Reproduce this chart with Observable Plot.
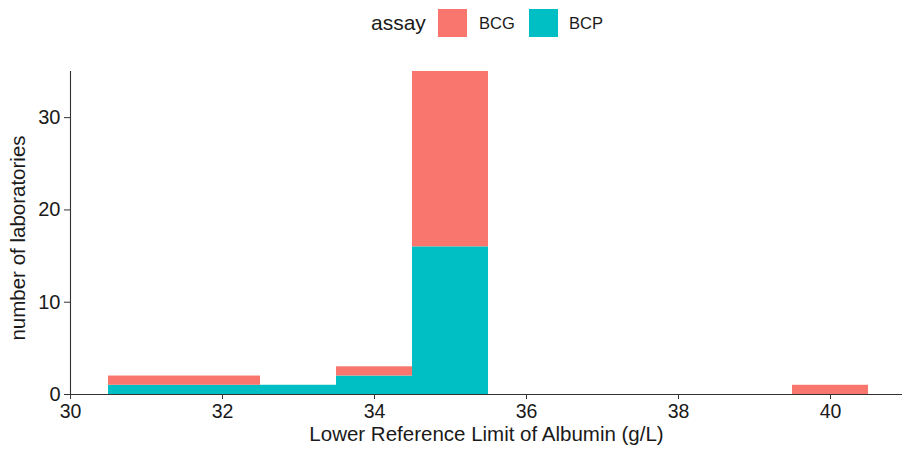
<!DOCTYPE html>
<html>
<head>
<meta charset="utf-8">
<script src="https://cdn.jsdelivr.net/npm/d3@7"></script>
<script src="https://cdn.jsdelivr.net/npm/@observablehq/plot@0.6"></script>
<style>
  body { margin: 0; background: #fff; font-family: "Liberation Sans", Arial, sans-serif; }
  #legend { position: relative; width: 902px; height: 50px; }
  #legend span { position: absolute; white-space: nowrap; color: #1a1a1a; line-height: 1; }
  #legend .sw { position: absolute; width: 29px; height: 28px; }
</style>
</head>
<body>
<div id="legend"></div>
<div id="chart"></div>
<script>
// Data: histogram bins (centres, width 1 g/L) and counts per assay
const binCentres = [31, 32, 33, 34, 35, 40];
const bcpCounts  = [1, 1, 1, 2, 16, 0];
const bcgCounts  = [1, 1, 0, 1, 19, 1];
const assays = ["BCG", "BCP"];
const assayColors = ["#F8766D", "#00BFC4"];
const xTicks = [30, 32, 34, 36, 38, 40];
const yTicks = [0, 10, 20, 30];

const rows = [];
binCentres.forEach((c, i) => rows.push({lo: c - 0.5, hi: c + 0.5, assay: "BCP", n: bcpCounts[i]}));
binCentres.forEach((c, i) => rows.push({lo: c - 0.5, hi: c + 0.5, assay: "BCG", n: bcgCounts[i]}));

// Legend
const lg = document.getElementById("legend");
function add(txt, style, cls) {
  const e = document.createElement(cls === "sw" ? "div" : "span");
  if (cls) e.className = cls;
  e.textContent = txt;
  Object.assign(e.style, style);
  lg.appendChild(e);
}
add("assay", {left: "371px", top: "11.7px", fontSize: "21px"});
add("", {left: "438px", top: "9px", background: assayColors[0]}, "sw");
add(assays[0], {left: "479px", top: "15.3px", fontSize: "16.5px"});
add("", {left: "529px", top: "9px", background: assayColors[1]}, "sw");
add(assays[1], {left: "569px", top: "15.3px", fontSize: "16.5px"});

const chart = Plot.plot({
  width: 902,
  height: 401,
  marginTop: 21,
  marginBottom: 57,
  marginLeft: 70,
  marginRight: 0,
  style: {fontFamily: "'Liberation Sans', Arial, sans-serif", fontSize: "20px", color: "#1a1a1a", background: "#fff"},
  x: {domain: [30, 40.947], ticks: xTicks, label: null},
  y: {domain: [0, 35], ticks: yTicks, label: null},
  color: {domain: assays, range: assayColors},
  marks: [
    Plot.rectY(rows, {x1: "lo", x2: "hi", y: "n", fill: "assay", inset: 0}),
    Plot.ruleY([0], {stroke: "#333", strokeWidth: 1.1}),
    Plot.ruleX([30], {y1: 0, y2: 35, stroke: "#333", strokeWidth: 1.1}),
    Plot.axisX({ticks: xTicks, tickSize: 5, tickPadding: 5, stroke: "#333", fontSize: 19.5, label: null}),
    Plot.axisY({ticks: yTicks, tickSize: 6, tickPadding: 4, stroke: "#333", fontSize: 20, label: null}),
    Plot.text(["Lower Reference Limit of Albumin (g/L)"], {frameAnchor: "bottom", dy: 46, fontSize: 20.5, fill: "#1a1a1a"}),
    Plot.text(["number of laboratories"], {frameAnchor: "left", textAnchor: "middle", dx: -52, dy: 5, rotate: -90, fontSize: 20.5, fill: "#1a1a1a"})
  ]
});
document.getElementById("chart").appendChild(chart);
</script>
</body>
</html>
